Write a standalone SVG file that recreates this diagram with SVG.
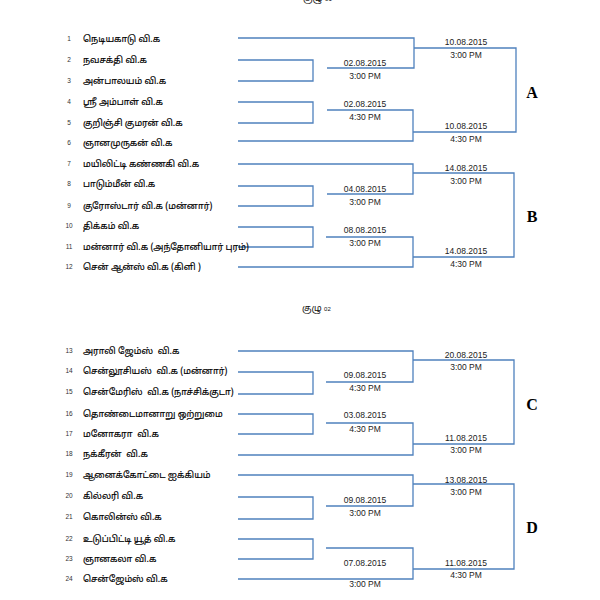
<svg xmlns="http://www.w3.org/2000/svg" width="600" height="600" viewBox="0 0 600 600">
<style>
.bg{fill:#fff}
.num{font-family:"Liberation Sans",sans-serif;font-size:6.5px;fill:#333;text-anchor:middle}
.tm{font-family:"Noto Sans Tamil","Noto Sans","DejaVu Sans",sans-serif;font-size:9px;fill:#000;stroke:#000;stroke-width:0.15;white-space:pre}
.dt{font-family:"Liberation Sans","Open Sans",sans-serif;font-size:8.5px;fill:#222;text-anchor:middle}
.pool{font-family:"Liberation Serif",serif;font-size:16px;font-weight:bold;fill:#000;text-anchor:middle}
.hd{font-family:"Noto Sans Tamil","Noto Sans",sans-serif;font-size:9px;fill:#111}
.hn{font-family:"Liberation Sans",sans-serif;font-size:6px;fill:#111}
.ln{fill:none;stroke:#4f81bd;stroke-width:1.3}
</style>
<rect class="bg" x="0" y="0" width="600" height="600"/>
<g id="heading-01"><text class="hd" x="303" y="1">குழு <tspan class="hn">01</tspan></text></g>
<g id="heading-02"><text class="hd" x="302" y="311">குழு <tspan class="hn">02</tspan></text></g>

<g id="connectors">
<path class="ln" d="M238,38 H414 V68 H327"/>
<path class="ln" d="M238,60 H313 V81 H238"/>
<path class="ln" d="M238,102 H313 V123 H238"/>
<path class="ln" d="M327,110 H413 V141 H238"/>
<path class="ln" d="M414,48 H516 V132 H413"/>

<path class="ln" d="M238,164 H413 V194 H327"/>
<path class="ln" d="M238,186 H313 V206 H238"/>
<path class="ln" d="M238,227 H313 V247 H238"/>
<path class="ln" d="M326,237 H413 V267 H238"/>
<path class="ln" d="M413,173 H514 V257 H413"/>

<path class="ln" d="M238,351 H413 V382 H326"/>
<path class="ln" d="M238,372 H313 V394 H238"/>
<path class="ln" d="M238,414 H313 V434 H238"/>
<path class="ln" d="M326,423 H413 V455 H238"/>
<path class="ln" d="M413,360 H514 V444 H413"/>

<path class="ln" d="M238,475 H413 V506 H326"/>
<path class="ln" d="M238,497 H313 V519 H238"/>
<path class="ln" d="M238,539 H313 V559 H238"/>
<path class="ln" d="M326,548 H413 V579 H238"/>
<path class="ln" d="M413,484 H514 V569 H413"/>
</g>

<g id="team-1"><text class="num" x="69" y="41">1</text><text class="tm" x="83" y="42">நெடியகாடு வி.க</text></g>
<g id="team-2"><text class="num" x="69" y="62">2</text><text class="tm" x="83" y="63">நவசக்தி வி.க</text></g>
<g id="team-3"><text class="num" x="69" y="83">3</text><text class="tm" x="83" y="84">அன்பாலயம் வி.க</text></g>
<g id="team-4"><text class="num" x="69" y="104">4</text><text class="tm" x="83" y="105">ஸ்ரீ அம்பாள் வி.க</text></g>
<g id="team-5"><text class="num" x="69" y="125">5</text><text class="tm" x="83" y="126">குறிஞ்சி குமரன் வி.க</text></g>
<g id="team-6"><text class="num" x="69" y="145">6</text><text class="tm" x="83" y="146">ஞானமுருகன் வி.க</text></g>
<g id="team-7"><text class="num" x="69" y="166">7</text><text class="tm" x="83" y="167">மயிலிட்டி கண்ணகி வி.க</text></g>
<g id="team-8"><text class="num" x="69" y="186">8</text><text class="tm" x="83" y="187">பாடும்மீன் வி.க</text></g>
<g id="team-9"><text class="num" x="69" y="208">9</text><text class="tm" x="83" y="209">குரோஸ்டார் வி.க (மன்னார்)</text></g>
<g id="team-10"><text class="num" x="69" y="228">10</text><text class="tm" x="83" y="229">திக்கம் வி.க</text></g>
<g id="team-11"><text class="num" x="69" y="249">11</text><text class="tm" x="83" y="250">மன்னார் வி.க (அந்தோனியார் புரம்)</text></g>
<g id="team-12"><text class="num" x="69" y="269">12</text><text class="tm" x="83" y="270">சென் ஆன்ஸ் வி.க (கிளி )</text></g>

<g id="team-13"><text class="num" x="69" y="353">13</text><text class="tm" x="83" y="354">அராலி ஜேம்ஸ்  வி.க</text></g>
<g id="team-14"><text class="num" x="69" y="373">14</text><text class="tm" x="83" y="374">சென்லூசியஸ்  வி.க (மன்னார்)</text></g>
<g id="team-15"><text class="num" x="69" y="394">15</text><text class="tm" x="83" y="395">சென்மேரிஸ்  வி.க (நாச்சிக்குடா)</text></g>
<g id="team-16"><text class="num" x="69" y="416">16</text><text class="tm" x="83" y="417">தொண்டைமானாறு ஒற்றுமை</text></g>
<g id="team-17"><text class="num" x="69" y="436">17</text><text class="tm" x="83" y="437">மனோகரா  வி.க</text></g>
<g id="team-18"><text class="num" x="69" y="456">18</text><text class="tm" x="83" y="457">நக்கீரன்  வி.க</text></g>
<g id="team-19"><text class="num" x="69" y="477">19</text><text class="tm" x="83" y="478">ஆனைக்கோட்டை ஐக்கியம்</text></g>
<g id="team-20"><text class="num" x="69" y="498">20</text><text class="tm" x="83" y="499">கில்லரி வி.க</text></g>
<g id="team-21"><text class="num" x="69" y="519">21</text><text class="tm" x="83" y="520">கொலின்ஸ் வி.க</text></g>
<g id="team-22"><text class="num" x="69" y="541">22</text><text class="tm" x="83" y="542">உடுப்பிட்டி யூத் வி.க</text></g>
<g id="team-23"><text class="num" x="69" y="561">23</text><text class="tm" x="83" y="562">ஞானகலா வி.க</text></g>
<g id="team-24"><text class="num" x="69" y="581">24</text><text class="tm" x="83" y="582">சென்ஜேம்ஸ் வி.க</text></g>

<g id="match-a1"><text class="dt" x="365" y="66">02.08.2015</text><text class="dt" x="365" y="79">3:00 PM</text></g>
<g id="match-a2"><text class="dt" x="365" y="107">02.08.2015</text><text class="dt" x="365" y="120">4:30 PM</text></g>
<g id="match-a3"><text class="dt" x="466" y="45">10.08.2015</text><text class="dt" x="466" y="58">3:00 PM</text></g>
<g id="match-a4"><text class="dt" x="466" y="129">10.08.2015</text><text class="dt" x="466" y="142">4:30 PM</text></g>
<g id="pool-a"><text class="pool" x="532" y="98">A</text></g>

<g id="match-b1"><text class="dt" x="365" y="192">04.08.2015</text><text class="dt" x="365" y="205">3:00 PM</text></g>
<g id="match-b2"><text class="dt" x="365" y="233">08.08.2015</text><text class="dt" x="365" y="246">3:00 PM</text></g>
<g id="match-b3"><text class="dt" x="466" y="171">14.08.2015</text><text class="dt" x="466" y="184">3:00 PM</text></g>
<g id="match-b4"><text class="dt" x="466" y="254">14.08.2015</text><text class="dt" x="466" y="267">4:30 PM</text></g>
<g id="pool-b"><text class="pool" x="532" y="222">B</text></g>

<g id="match-c1"><text class="dt" x="365" y="378">09.08.2015</text><text class="dt" x="365" y="391">4:30 PM</text></g>
<g id="match-c2"><text class="dt" x="365" y="418">03.08.2015</text><text class="dt" x="365" y="432">4:30 PM</text></g>
<g id="match-c3"><text class="dt" x="466" y="358">20.08.2015</text><text class="dt" x="466" y="370">3:00 PM</text></g>
<g id="match-c4"><text class="dt" x="466" y="441">11.08.2015</text><text class="dt" x="466" y="453">3:00 PM</text></g>
<g id="pool-c"><text class="pool" x="532" y="410">C</text></g>

<g id="match-d1"><text class="dt" x="365" y="503">09.08.2015</text><text class="dt" x="365" y="516">3:00 PM</text></g>
<g id="match-d2"><text class="dt" x="365" y="566">07.08.2015</text><text class="dt" x="365" y="587">3:00 PM</text></g>
<g id="match-d3"><text class="dt" x="466" y="483">13.08.2015</text><text class="dt" x="466" y="495">3:00 PM</text></g>
<g id="match-d4"><text class="dt" x="466" y="566">11.08.2015</text><text class="dt" x="466" y="578">4:30 PM</text></g>
<g id="pool-d"><text class="pool" x="532" y="533">D</text></g>
</svg>
